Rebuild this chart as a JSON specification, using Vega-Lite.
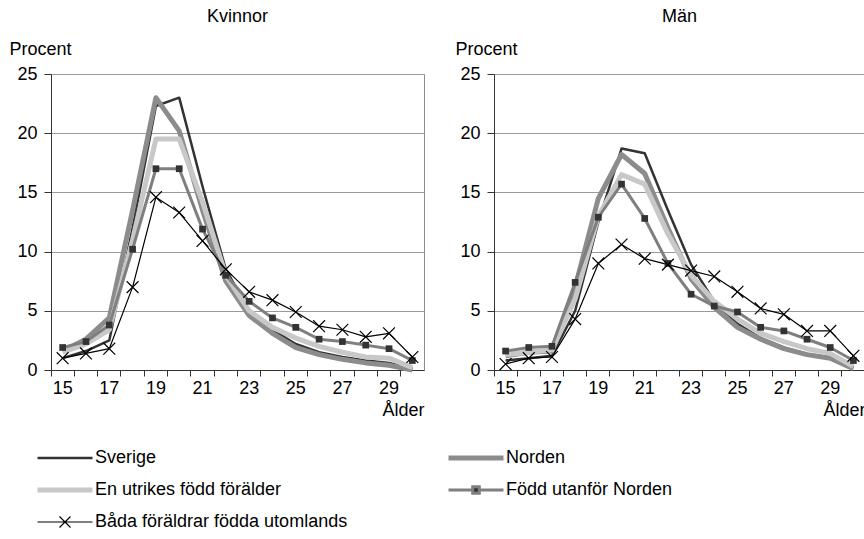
{
  "$schema": "https://vega.github.io/schema/vega-lite/v6.json",
  "padding": {"left": 8, "top": 7, "right": 0, "bottom": 0},
  "background": "white",
  "config": {
    "font": "Liberation Sans",
    "view": {"stroke": "#8c8c8c"},
    "axis": {"labelFontSize": 18, "titleFontSize": 18, "titleFontWeight": "normal", "labelColor": "#000", "titleColor": "#000", "domainColor": "#333", "tickColor": "#333", "labelFont": "Liberation Sans", "titleFont": "Liberation Sans"},
    "title": {"fontSize": 18, "fontWeight": "normal", "font": "Liberation Sans", "color": "#000"},
    "concat": {"spacing": 29}
  },
  "data": {"values": [
    {"g":"Kvinnor","s":"Sverige","a":15,"v":1.0},{"g":"Kvinnor","s":"Sverige","a":16,"v":1.6},{"g":"Kvinnor","s":"Sverige","a":17,"v":2.5},{"g":"Kvinnor","s":"Sverige","a":18,"v":12.0},{"g":"Kvinnor","s":"Sverige","a":19,"v":22.3},{"g":"Kvinnor","s":"Sverige","a":20,"v":23.0},{"g":"Kvinnor","s":"Sverige","a":21,"v":15.5},{"g":"Kvinnor","s":"Sverige","a":22,"v":8.5},{"g":"Kvinnor","s":"Sverige","a":23,"v":5.0},{"g":"Kvinnor","s":"Sverige","a":24,"v":3.4},{"g":"Kvinnor","s":"Sverige","a":25,"v":2.2},{"g":"Kvinnor","s":"Sverige","a":26,"v":1.5},{"g":"Kvinnor","s":"Sverige","a":27,"v":1.1},{"g":"Kvinnor","s":"Sverige","a":28,"v":0.8},{"g":"Kvinnor","s":"Sverige","a":29,"v":0.6},{"g":"Kvinnor","s":"Sverige","a":30,"v":0.1},
    {"g":"Kvinnor","s":"Norden","a":15,"v":1.6},{"g":"Kvinnor","s":"Norden","a":16,"v":2.6},{"g":"Kvinnor","s":"Norden","a":17,"v":4.4},{"g":"Kvinnor","s":"Norden","a":18,"v":13.5},{"g":"Kvinnor","s":"Norden","a":19,"v":23.0},{"g":"Kvinnor","s":"Norden","a":20,"v":20.2},{"g":"Kvinnor","s":"Norden","a":21,"v":13.5},{"g":"Kvinnor","s":"Norden","a":22,"v":7.5},{"g":"Kvinnor","s":"Norden","a":23,"v":4.6},{"g":"Kvinnor","s":"Norden","a":24,"v":3.1},{"g":"Kvinnor","s":"Norden","a":25,"v":1.9},{"g":"Kvinnor","s":"Norden","a":26,"v":1.3},{"g":"Kvinnor","s":"Norden","a":27,"v":0.9},{"g":"Kvinnor","s":"Norden","a":28,"v":0.6},{"g":"Kvinnor","s":"Norden","a":29,"v":0.4},{"g":"Kvinnor","s":"Norden","a":30,"v":0.0},
    {"g":"Kvinnor","s":"En utrikes född förälder","a":15,"v":1.5},{"g":"Kvinnor","s":"En utrikes född förälder","a":16,"v":2.2},{"g":"Kvinnor","s":"En utrikes född förälder","a":17,"v":3.4},{"g":"Kvinnor","s":"En utrikes född förälder","a":18,"v":11.0},{"g":"Kvinnor","s":"En utrikes född förälder","a":19,"v":19.5},{"g":"Kvinnor","s":"En utrikes född förälder","a":20,"v":19.5},{"g":"Kvinnor","s":"En utrikes född förälder","a":21,"v":14.2},{"g":"Kvinnor","s":"En utrikes född förälder","a":22,"v":8.0},{"g":"Kvinnor","s":"En utrikes född förälder","a":23,"v":5.0},{"g":"Kvinnor","s":"En utrikes född förälder","a":24,"v":3.6},{"g":"Kvinnor","s":"En utrikes född förälder","a":25,"v":2.7},{"g":"Kvinnor","s":"En utrikes född förälder","a":26,"v":2.0},{"g":"Kvinnor","s":"En utrikes född förälder","a":27,"v":1.5},{"g":"Kvinnor","s":"En utrikes född förälder","a":28,"v":1.1},{"g":"Kvinnor","s":"En utrikes född förälder","a":29,"v":1.0},{"g":"Kvinnor","s":"En utrikes född förälder","a":30,"v":0.2},
    {"g":"Kvinnor","s":"Född utanför Norden","a":15,"v":1.9},{"g":"Kvinnor","s":"Född utanför Norden","a":16,"v":2.4},{"g":"Kvinnor","s":"Född utanför Norden","a":17,"v":3.8},{"g":"Kvinnor","s":"Född utanför Norden","a":18,"v":10.2},{"g":"Kvinnor","s":"Född utanför Norden","a":19,"v":17.0},{"g":"Kvinnor","s":"Född utanför Norden","a":20,"v":17.0},{"g":"Kvinnor","s":"Född utanför Norden","a":21,"v":11.9},{"g":"Kvinnor","s":"Född utanför Norden","a":22,"v":8.0},{"g":"Kvinnor","s":"Född utanför Norden","a":23,"v":5.8},{"g":"Kvinnor","s":"Född utanför Norden","a":24,"v":4.4},{"g":"Kvinnor","s":"Född utanför Norden","a":25,"v":3.6},{"g":"Kvinnor","s":"Född utanför Norden","a":26,"v":2.6},{"g":"Kvinnor","s":"Född utanför Norden","a":27,"v":2.4},{"g":"Kvinnor","s":"Född utanför Norden","a":28,"v":2.1},{"g":"Kvinnor","s":"Född utanför Norden","a":29,"v":1.8},{"g":"Kvinnor","s":"Född utanför Norden","a":30,"v":0.8},
    {"g":"Kvinnor","s":"Båda föräldrar födda utomlands","a":15,"v":1.0},{"g":"Kvinnor","s":"Båda föräldrar födda utomlands","a":16,"v":1.4},{"g":"Kvinnor","s":"Båda föräldrar födda utomlands","a":17,"v":1.8},{"g":"Kvinnor","s":"Båda föräldrar födda utomlands","a":18,"v":7.0},{"g":"Kvinnor","s":"Båda föräldrar födda utomlands","a":19,"v":14.6},{"g":"Kvinnor","s":"Båda föräldrar födda utomlands","a":20,"v":13.3},{"g":"Kvinnor","s":"Båda föräldrar födda utomlands","a":21,"v":10.9},{"g":"Kvinnor","s":"Båda föräldrar födda utomlands","a":22,"v":8.5},{"g":"Kvinnor","s":"Båda föräldrar födda utomlands","a":23,"v":6.6},{"g":"Kvinnor","s":"Båda föräldrar födda utomlands","a":24,"v":5.9},{"g":"Kvinnor","s":"Båda föräldrar födda utomlands","a":25,"v":4.9},{"g":"Kvinnor","s":"Båda föräldrar födda utomlands","a":26,"v":3.7},{"g":"Kvinnor","s":"Båda föräldrar födda utomlands","a":27,"v":3.4},{"g":"Kvinnor","s":"Båda föräldrar födda utomlands","a":28,"v":2.8},{"g":"Kvinnor","s":"Båda föräldrar födda utomlands","a":29,"v":3.1},{"g":"Kvinnor","s":"Båda föräldrar födda utomlands","a":30,"v":1.1},
    {"g":"Män","s":"Sverige","a":15,"v":0.8},{"g":"Män","s":"Sverige","a":16,"v":1.0},{"g":"Män","s":"Sverige","a":17,"v":1.2},{"g":"Män","s":"Sverige","a":18,"v":5.0},{"g":"Män","s":"Sverige","a":19,"v":12.5},{"g":"Män","s":"Sverige","a":20,"v":18.7},{"g":"Män","s":"Sverige","a":21,"v":18.3},{"g":"Män","s":"Sverige","a":22,"v":13.5},{"g":"Män","s":"Sverige","a":23,"v":8.9},{"g":"Män","s":"Sverige","a":24,"v":5.8},{"g":"Män","s":"Sverige","a":25,"v":3.9},{"g":"Män","s":"Sverige","a":26,"v":2.7},{"g":"Män","s":"Sverige","a":27,"v":1.9},{"g":"Män","s":"Sverige","a":28,"v":1.35},{"g":"Män","s":"Sverige","a":29,"v":1.05},{"g":"Män","s":"Sverige","a":30,"v":0.2},
    {"g":"Män","s":"Norden","a":15,"v":1.2},{"g":"Män","s":"Norden","a":16,"v":1.5},{"g":"Män","s":"Norden","a":17,"v":1.6},{"g":"Män","s":"Norden","a":18,"v":7.0},{"g":"Män","s":"Norden","a":19,"v":14.5},{"g":"Män","s":"Norden","a":20,"v":18.2},{"g":"Män","s":"Norden","a":21,"v":16.6},{"g":"Män","s":"Norden","a":22,"v":12.0},{"g":"Män","s":"Norden","a":23,"v":7.7},{"g":"Män","s":"Norden","a":24,"v":5.3},{"g":"Män","s":"Norden","a":25,"v":3.6},{"g":"Män","s":"Norden","a":26,"v":2.6},{"g":"Män","s":"Norden","a":27,"v":1.8},{"g":"Män","s":"Norden","a":28,"v":1.3},{"g":"Män","s":"Norden","a":29,"v":1.0},{"g":"Män","s":"Norden","a":30,"v":0.1},
    {"g":"Män","s":"En utrikes född förälder","a":15,"v":1.3},{"g":"Män","s":"En utrikes född förälder","a":16,"v":1.5},{"g":"Män","s":"En utrikes född förälder","a":17,"v":1.7},{"g":"Män","s":"En utrikes född förälder","a":18,"v":6.0},{"g":"Män","s":"En utrikes född förälder","a":19,"v":13.0},{"g":"Män","s":"En utrikes född förälder","a":20,"v":16.5},{"g":"Män","s":"En utrikes född förälder","a":21,"v":15.7},{"g":"Män","s":"En utrikes född förälder","a":22,"v":11.5},{"g":"Män","s":"En utrikes född förälder","a":23,"v":8.0},{"g":"Män","s":"En utrikes född förälder","a":24,"v":5.8},{"g":"Män","s":"En utrikes född förälder","a":25,"v":4.3},{"g":"Män","s":"En utrikes född förälder","a":26,"v":3.1},{"g":"Män","s":"En utrikes född förälder","a":27,"v":2.4},{"g":"Män","s":"En utrikes född förälder","a":28,"v":1.8},{"g":"Män","s":"En utrikes född förälder","a":29,"v":1.4},{"g":"Män","s":"En utrikes född förälder","a":30,"v":0.3},
    {"g":"Män","s":"Född utanför Norden","a":15,"v":1.6},{"g":"Män","s":"Född utanför Norden","a":16,"v":1.9},{"g":"Män","s":"Född utanför Norden","a":17,"v":2.0},{"g":"Män","s":"Född utanför Norden","a":18,"v":7.4},{"g":"Män","s":"Född utanför Norden","a":19,"v":12.9},{"g":"Män","s":"Född utanför Norden","a":20,"v":15.7},{"g":"Män","s":"Född utanför Norden","a":21,"v":12.8},{"g":"Män","s":"Född utanför Norden","a":22,"v":9.0},{"g":"Män","s":"Född utanför Norden","a":23,"v":6.4},{"g":"Män","s":"Född utanför Norden","a":24,"v":5.4},{"g":"Män","s":"Född utanför Norden","a":25,"v":4.9},{"g":"Män","s":"Född utanför Norden","a":26,"v":3.6},{"g":"Män","s":"Född utanför Norden","a":27,"v":3.3},{"g":"Män","s":"Född utanför Norden","a":28,"v":2.6},{"g":"Män","s":"Född utanför Norden","a":29,"v":1.9},{"g":"Män","s":"Född utanför Norden","a":30,"v":0.8},
    {"g":"Män","s":"Båda föräldrar födda utomlands","a":15,"v":0.5},{"g":"Män","s":"Båda föräldrar födda utomlands","a":16,"v":1.0},{"g":"Män","s":"Båda föräldrar födda utomlands","a":17,"v":1.1},{"g":"Män","s":"Båda föräldrar födda utomlands","a":18,"v":4.3},{"g":"Män","s":"Båda föräldrar födda utomlands","a":19,"v":9.0},{"g":"Män","s":"Båda föräldrar födda utomlands","a":20,"v":10.6},{"g":"Män","s":"Båda föräldrar födda utomlands","a":21,"v":9.4},{"g":"Män","s":"Båda föräldrar födda utomlands","a":22,"v":8.9},{"g":"Män","s":"Båda föräldrar födda utomlands","a":23,"v":8.4},{"g":"Män","s":"Båda föräldrar födda utomlands","a":24,"v":7.9},{"g":"Män","s":"Båda föräldrar födda utomlands","a":25,"v":6.6},{"g":"Män","s":"Båda föräldrar födda utomlands","a":26,"v":5.2},{"g":"Män","s":"Båda föräldrar födda utomlands","a":27,"v":4.7},{"g":"Män","s":"Båda föräldrar födda utomlands","a":28,"v":3.3},{"g":"Män","s":"Båda föräldrar födda utomlands","a":29,"v":3.3},{"g":"Män","s":"Båda föräldrar födda utomlands","a":30,"v":1.2}
  ]},
  "resolve": {"scale": {"color": "shared"}, "legend": {"color": "shared"}},
  "hconcat": [
    {
      "width": 373, "height": 296,
      "title": {"text": "Kvinnor", "offset": 14},
      "transform": [{"filter": "datum.g === 'Kvinnor'"}],
      "layer": [
        {
          "mark": {"type": "line", "strokeCap": "butt", "strokeJoin": "round"},
          "encoding": {
            "x": {"field": "a", "type": "ordinal", "scale": {"type": "band", "paddingInner": 0, "paddingOuter": 0}, "axis": {"title": "Ålder", "titleAnchor": "end", "titlePadding": 4, "labelAngle": 0, "bandPosition": 0, "tickSize": 6, "labelPadding": 3, "labelExpr": "datum.value % 2 == 1 ? datum.label : ''", "grid": false}},
            "y": {"field": "v", "type": "quantitative", "scale": {"domain": [0, 25], "nice": false}, "axis": {"title": "Procent", "titleAngle": 0, "titleAlign": "left", "titleBaseline": "middle", "titleX": -42, "titleY": -25, "values": [0,5,10,15,20,25], "tickSize": 7, "labelPadding": 7, "gridColor": "#999", "gridWidth": 1}},
            "color": {"field": "s", "type": "nominal", "scale": {"domain": ["Sverige","Norden","En utrikes född förälder","Född utanför Norden","Båda föräldrar födda utomlands"], "range": ["#333333","#8c8c8c","#c8c8c8","#7f7f7f","#000000"]},
              "legend": {"title": null, "orient": "none", "legendX": -14, "legendY": 374, "columns": 2, "columnPadding": 100, "rowPadding": 12, "clipHeight": 20, "symbolType": "stroke", "symbolSize": 3025, "symbolOffset": 19, "labelFontSize": 18, "labelFont": "Liberation Sans", "labelColor": "#000", "labelOffset": 21, "labelLimit": 400,
                "values": ["Sverige","En utrikes född förälder","Båda föräldrar födda utomlands","Norden","Född utanför Norden"],
                "encode": {"symbols": {"update": {
                  "shape": {"signal": "datum.value === 'Född utanför Norden' ? 'M-1,0H-0.12V-0.12H0.12V0.12H-0.12V0M0.12,0H1' : datum.value === 'Båda föräldrar födda utomlands' ? 'M-1,0H1M-0.2,-0.2L0.2,0.2M-0.2,0.2L0.2,-0.2' : 'M-1,0H1'"},
                  "strokeWidth": {"signal": "datum.value === 'Norden' || datum.value === 'En utrikes född förälder' ? 5 : datum.value === 'Sverige' ? 2.5 : datum.value === 'Född utanför Norden' ? 3 : 1.2"},
                  "fill": {"signal": "datum.value === 'Född utanför Norden' ? '#333333' : 'transparent'"}
                }}}
              }},
            "strokeWidth": {"condition": [{"test": "datum.s === 'Norden' || datum.s === 'En utrikes född förälder'", "value": 5}, {"test": "datum.s === 'Sverige'", "value": 2.5}, {"test": "datum.s === 'Född utanför Norden'", "value": 3}], "value": 1.2}
          }
        },
        {
          "transform": [{"filter": "datum.s === 'Född utanför Norden'"}],
          "mark": {"type": "point", "shape": "square", "filled": true, "color": "#333333", "size": 45, "opacity": 1},
          "encoding": {"x": {"field": "a", "type": "ordinal"}, "y": {"field": "v", "type": "quantitative"}}
        },
        {
          "transform": [{"filter": "datum.s === 'Båda föräldrar födda utomlands'"}],
          "mark": {"type": "point", "shape": "M-1,-1L1,1M-1,1L1,-1", "filled": false, "stroke": "#000000", "strokeWidth": 1.2, "size": 140, "opacity": 1},
          "encoding": {"x": {"field": "a", "type": "ordinal"}, "y": {"field": "v", "type": "quantitative"}}
        }
      ]
    },
    {
      "width": 371, "height": 296,
      "title": {"text": "Män", "offset": 14},
      "transform": [{"filter": "datum.g === 'Män'"}],
      "layer": [
        {
          "mark": {"type": "line", "strokeCap": "butt", "strokeJoin": "round"},
          "encoding": {
            "x": {"field": "a", "type": "ordinal", "scale": {"type": "band", "paddingInner": 0, "paddingOuter": 0}, "axis": {"title": "Ålder", "titleAnchor": "end", "titlePadding": 4, "labelAngle": 0, "bandPosition": 0, "tickSize": 6, "labelPadding": 3, "labelExpr": "datum.value % 2 == 1 ? datum.label : ''", "grid": false}},
            "y": {"field": "v", "type": "quantitative", "scale": {"domain": [0, 25], "nice": false}, "axis": {"title": "Procent", "titleAngle": 0, "titleAlign": "left", "titleBaseline": "middle", "titleX": -39, "titleY": -25, "values": [0,5,10,15,20,25], "tickSize": 7, "labelPadding": 7, "gridColor": "#999", "gridWidth": 1}},
            "color": {"field": "s", "type": "nominal"},
            "strokeWidth": {"condition": [{"test": "datum.s === 'Norden' || datum.s === 'En utrikes född förälder'", "value": 5}, {"test": "datum.s === 'Sverige'", "value": 2.5}, {"test": "datum.s === 'Född utanför Norden'", "value": 3}], "value": 1.2}
          }
        },
        {
          "transform": [{"filter": "datum.s === 'Född utanför Norden'"}],
          "mark": {"type": "point", "shape": "square", "filled": true, "color": "#333333", "size": 45, "opacity": 1},
          "encoding": {"x": {"field": "a", "type": "ordinal"}, "y": {"field": "v", "type": "quantitative"}}
        },
        {
          "transform": [{"filter": "datum.s === 'Båda föräldrar födda utomlands'"}],
          "mark": {"type": "point", "shape": "M-1,-1L1,1M-1,1L1,-1", "filled": false, "stroke": "#000000", "strokeWidth": 1.2, "size": 140, "opacity": 1},
          "encoding": {"x": {"field": "a", "type": "ordinal"}, "y": {"field": "v", "type": "quantitative"}}
        }
      ]
    }
  ]
}
